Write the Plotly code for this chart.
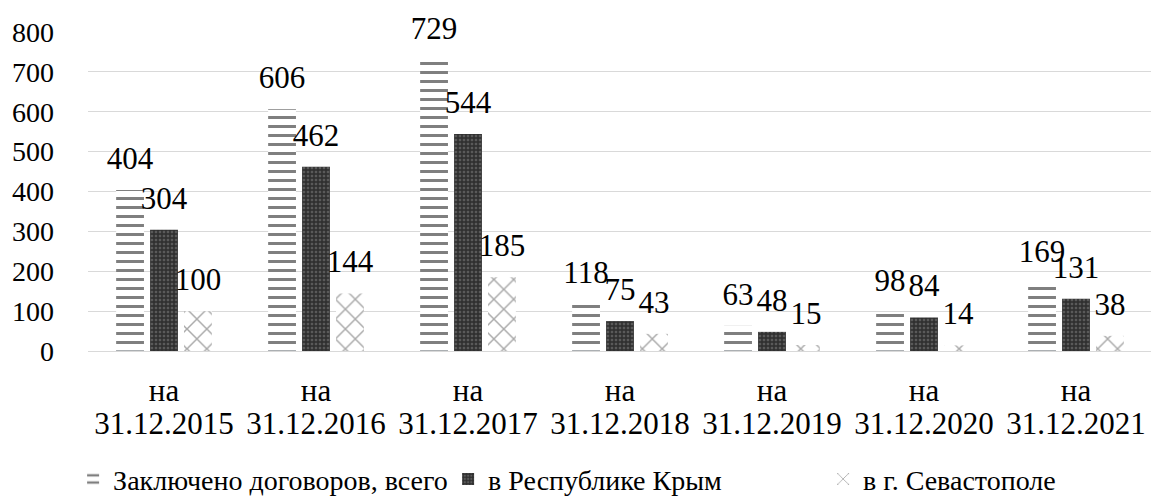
import plotly.graph_objects as go

categories = ["на 31.12.2015", "на 31.12.2016", "на 31.12.2017", "на 31.12.2018",
              "на 31.12.2019", "на 31.12.2020", "на 31.12.2021"]
dates = ["31.12.2015", "31.12.2016", "31.12.2017", "31.12.2018",
         "31.12.2019", "31.12.2020", "31.12.2021"]
prefix = ["на"] * 7
total = [404, 606, 729, 118, 63, 98, 169]
crimea = [304, 462, 544, 75, 48, 84, 131]
sevastopol = [100, 144, 185, 43, 15, 14, 38]
series_names = ["Заключено договоров, всего", "в Республике Крым", "в г. Севастополе"]

FONT = "'Times New Roman', 'Liberation Serif', serif"

patterns = [
    dict(shape="-", fgcolor="black", bgcolor="white", size=9, solidity=0.33),
    dict(shape="+", fgcolor="black", bgcolor="#5a5a5a", size=4, solidity=0.6),
    dict(shape="x", fgcolor="#555555", bgcolor="white", size=14, solidity=0.2),
]

fig = go.Figure()
series = [total, crimea, sevastopol]
for i, (name, vals, pat) in enumerate(zip(series_names, series, patterns)):
    fig.add_trace(go.Bar(
        name=name, x=categories, y=vals, offsetgroup=str(i),
        marker=dict(color="white", line=dict(width=0), pattern=pat),
        hoverinfo="x+y",
    ))
# data labels: text-only scatter aligned with the bar groups
for i, vals in enumerate(series):
    fig.add_trace(go.Scatter(
        x=categories, y=vals, text=vals, mode="markers+text", offsetgroup=str(i),
        textposition="top center", showlegend=False, hoverinfo="skip", cliponaxis=False,
        marker=dict(size=20, color="rgba(0,0,0,0)"),
        textfont=dict(family=FONT, size=31, color="black"),
    ))

fig.update_layout(
    width=1159, height=502,
    paper_bgcolor="white", plot_bgcolor="white",
    margin=dict(l=80, r=15, t=24, b=159, autoexpand=False),
    barmode="group", bargap=0.33, bargroupgap=0.18,
    scattermode="group", scattergap=0.33,
    font=dict(family=FONT, size=28, color="black"),
    showlegend=True,
    legend=dict(orientation="h", x=-0.014, xanchor="left", y=-0.402, yanchor="middle",
                font=dict(family=FONT, size=28, color="black"),
                itemwidth=30, entrywidth=330, entrywidthmode="pixels", traceorder="normal"),
    xaxis=dict(type="category", categoryarray=categories, tickvals=categories, ticktext=prefix,
               showline=True, linecolor="#d9d9d9", linewidth=1, showgrid=False, ticks="",
               ticklabelstandoff=12, range=[-0.5, 6.5], tickfont=dict(size=31), automargin=False),
    xaxis2=dict(type="category", overlaying="x", matches="x", side="bottom", anchor="y",
                categoryarray=categories, tickvals=categories, ticktext=dates,
                showline=False, showgrid=False, ticks="", ticklabelstandoff=51,
                range=[-0.5, 6.5], tickfont=dict(size=31), automargin=False),
    yaxis=dict(range=[0, 800], tickvals=[0, 100, 200, 300, 400, 500, 600, 700, 800],
               showgrid=True, gridcolor="#d9d9d9", gridwidth=1, zeroline=False,
               ticks="", ticklabelstandoff=33, showline=False, tickfont=dict(size=28),
               automargin=False),
)
# invisible trace on xaxis2 so the second category axis renders its labels
fig.add_trace(go.Bar(x=categories, y=[0] * 7, xaxis="x2", showlegend=False,
                     hoverinfo="skip", marker=dict(color="rgba(0,0,0,0)")))
fig.write_html("out.html")
